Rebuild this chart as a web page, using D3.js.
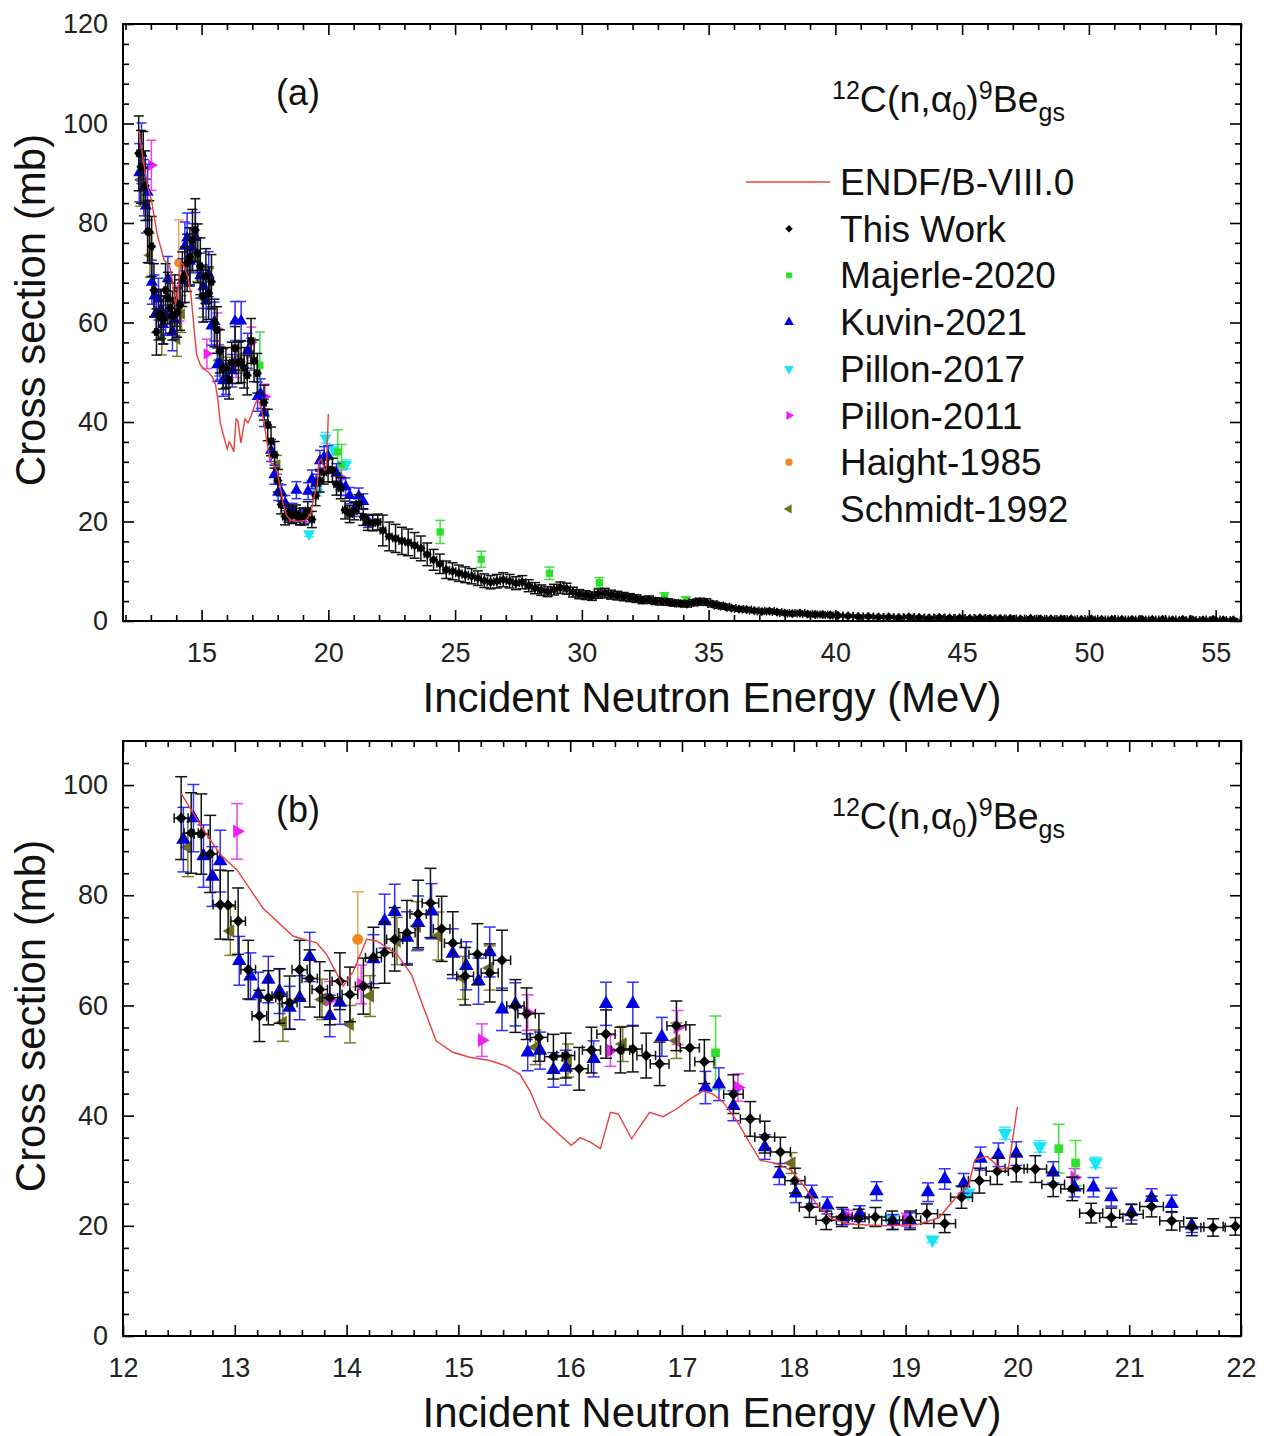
<!DOCTYPE html>
<html lang="en">
<head>
<meta charset="UTF-8">
<title>12C(n,a0)9Be cross section</title>
<script src="https://d3js.org/d3.v7.min.js"></script>
<style>
    body { margin: 0; background: #fff; }
    svg { font-family: "Liberation Sans", Arial, sans-serif; }
    .frame { fill: none; stroke: #000; stroke-width: 2; }
    .axis path { display: none; }
    .axis line { stroke: #000; stroke-width: 1.6; }
    .axis text { font-size: 27px; fill: #222; font-family: "Liberation Sans", Arial, sans-serif; }
    .title { font-size: 42px; fill: #111; }
    .legend text { font-size: 37px; fill: #111; }
</style>
</head>
<body>
<script>
// ---- data ----
const thisWorkE = [12.52, 12.61, 12.70, 12.78, 12.87, 12.94, 13.03, 13.12, 13.22, 13.30, 13.40, 13.49, 13.58, 13.67, 13.76, 13.85, 13.94, 14.03, 14.15, 14.24,
    14.34, 14.43, 14.54, 14.64, 14.75, 14.85, 14.95, 15.06, 15.17, 15.28, 15.39, 15.51, 15.61, 15.72, 15.85, 15.96, 16.08, 16.19, 16.32, 16.45,
    16.56, 16.68, 16.80, 16.95, 17.07, 17.20, 17.46, 17.61, 17.74, 17.88, 18.01, 18.14, 18.29, 18.43, 18.58, 18.73, 18.88, 19.04, 19.19, 19.35,
    19.50, 19.66, 19.82, 19.99, 20.16, 20.32, 20.49, 20.66, 20.84, 21.02, 21.20, 21.38, 21.56, 21.75, 21.95,
    22.15, 22.40, 22.65, 22.90, 23.15, 23.40, 23.65, 23.90, 24.15, 24.40, 24.65, 24.90, 25.15, 25.40, 25.65, 25.90, 26.15, 26.40, 26.65, 26.90,
    27.15, 27.40, 27.65, 27.90, 28.15, 28.40, 28.65, 28.90, 29.15, 29.40, 29.65, 29.90, 30.15, 30.40, 30.65, 30.90, 31.15, 31.40, 31.65, 31.90,
    32.15, 32.40, 32.65, 32.90, 33.15, 33.40, 33.65, 33.90, 34.15, 34.40, 34.65, 34.90, 35.15, 35.40, 35.65, 35.90, 36.20, 36.50, 36.80, 37.10,
    37.40, 37.70, 38.00, 38.30, 38.60, 38.90, 39.20, 39.50, 39.80, 40.10, 40.50, 40.90, 41.30, 41.70, 42.10, 42.50, 42.90, 43.30, 43.70, 44.10,
    44.50, 44.90, 45.30, 45.70, 46.10, 46.50, 46.90, 47.30, 47.70, 48.10, 48.50, 48.90, 49.30, 49.70, 50.10, 50.50, 50.90, 51.30, 51.70, 52.10,
    52.50, 52.90, 53.30, 53.70, 54.10, 54.50, 54.90, 55.30, 55.70];
const thisWorkXS = [94.0, 91.3, 91.1, 87.5, 78.3, 78.2, 75.3, 66.5, 58.1, 61.4, 61.7, 60.5, 66.5, 64.9, 62.9, 61.4, 64.4, 62.0, 63.5, 68.7,
    69.6, 72.0, 73.2, 76.6, 78.6, 73.9, 71.3, 65.3, 69.3, 65.9, 68.2, 59.9, 58.5, 54.2, 50.7, 50.9, 48.5, 51.9, 54.8, 51.9,
    52.1, 50.9, 49.4, 56.3, 52.3, 49.8, 43.9, 39.4, 36.1, 33.4, 28.2, 23.4, 21.0, 21.6, 21.3, 21.6, 21.0, 21.0, 22.2, 20.4,
    25.2, 28.2, 29.9, 30.4, 30.3, 27.5, 26.7, 22.3, 21.5, 22.1, 23.5, 20.9, 19.8, 19.7, 19.9,
    18.2, 17.0, 16.6, 16.1, 15.8, 15.2, 14.6, 13.4, 12.3, 11.5, 10.3, 10.0, 9.6, 9.3, 9.0, 8.6, 8.1, 7.8, 8.0, 8.3,
    8.0, 7.6, 7.8, 7.1, 6.6, 6.2, 5.9, 6.3, 6.7, 6.5, 5.8, 5.4, 5.2, 5.0, 5.5, 5.6, 5.3, 5.1, 4.9, 4.7,
    4.5, 4.2, 4.3, 4.0, 3.9, 3.8, 3.6, 3.5, 3.4, 3.7, 3.9, 3.8, 3.4, 3.1, 2.9, 2.6, 2.4, 2.3, 2.1, 1.9,
    2.0, 1.8, 1.6, 1.5, 1.6, 1.4, 1.3, 1.3, 1.2, 1.1, 1.0, 0.9, 0.9, 0.8, 0.8, 0.7, 0.8, 0.7, 0.6, 0.7,
    0.6, 0.6, 0.5, 0.6, 0.5, 0.5, 0.5, 0.4, 0.5, 0.4, 0.4, 0.4, 0.4, 0.3, 0.4, 0.3, 0.3, 0.3, 0.3, 0.3,
    0.3, 0.3, 0.2, 0.3, 0.2, 0.2, 0.3, 0.2, 0.2];

const majerleE = [17.30, 20.37, 20.52, 24.41, 26.03, 28.72, 30.69, 33.26, 34.11];
const majerleXS = [51.4, 34.0, 31.4, 17.9, 12.4, 9.6, 7.7, 5.0, 4.3];

const kuvinE = [12.54, 12.63, 12.72, 12.80, 12.87, 13.04, 13.14, 13.21, 13.30, 13.40, 13.49, 13.58, 13.67, 13.85, 13.94, 14.24, 14.34, 14.43, 14.54, 14.64,
    14.76, 14.95, 15.07, 15.18, 15.28, 15.39, 15.51, 15.62, 15.73, 15.85, 15.96, 16.21, 16.32, 16.56, 16.82, 17.21, 17.33, 17.46, 17.74, 17.87,
    18.02, 18.16, 18.30, 18.44, 18.59, 18.74, 18.89, 19.04, 19.20, 19.35, 19.52, 19.67, 19.83, 19.99, 20.32, 20.51, 20.68, 20.84, 21.02, 21.20,
    21.38, 21.56];
const kuvinXS = [90.1, 94.0, 87.1, 83.4, 86.2, 68.1, 65.3, 62.0, 64.7, 62.6, 59.6, 61.4, 68.8, 58.1, 60.5, 68.4, 75.3, 77.0, 72.3, 75.0,
    77.1, 69.4, 67.2, 64.4, 69.7, 59.3, 60.2, 51.5, 51.8, 48.3, 48.7, 50.3, 60.3, 60.3, 54.3, 45.1, 45.7, 41.8, 34.3, 29.4,
    25.9, 25.7, 23.7, 21.6, 22.2, 26.3, 20.7, 21.0, 26.1, 28.5, 27.7, 32.2, 32.9, 33.1, 29.7, 27.0, 27.0, 25.2, 22.5, 25.1,
    24.0, 20.1];

const pillon2017E = [18.87, 19.24, 19.56, 19.89, 20.20, 20.70];
const pillon2017XS = [21.2, 17.5, 25.9, 36.8, 34.4, 31.5];

const pillon2011E = [13.02, 13.85, 14.13, 15.21, 15.62, 16.36, 16.96, 17.50, 18.49, 19.01, 20.51];
const pillon2011XS = [91.6, 61.0, 63.8, 53.7, 58.7, 51.8, 56.0, 45.1, 21.6, 21.1, 28.8];

const haightE = [14.10];
const haightXS = [72.0];

const schmidtE = [12.58, 12.96, 13.43, 13.78, 14.03, 14.21, 14.45, 14.63, 14.82, 15.04, 15.28, 15.69, 15.98, 16.47, 16.95, 17.98];
const schmidtXS = [88.7, 73.5, 56.9, 61.1, 56.6, 61.7, 71.7, 74.4, 72.6, 65.0, 66.8, 52.4, 50.0, 53.0, 53.6, 31.4];

const endfE = [12.52, 12.70, 12.87, 13.02, 13.25, 13.52, 13.65, 13.73, 13.82, 13.97, 14.06, 14.18, 14.27, 14.45, 14.58, 14.70, 14.80, 14.95, 15.10, 15.28,
    15.43, 15.55, 15.64, 15.74, 15.88, 16.01, 16.09, 16.18, 16.27, 16.36, 16.43, 16.55, 16.62, 16.71, 16.83, 16.95, 17.07, 17.19, 17.28, 17.37,
    17.49, 17.61, 17.70, 17.85, 17.98, 18.10, 18.22, 18.35, 18.50, 18.80, 19.10, 19.30, 19.49, 19.56, 19.62, 19.73, 19.85, 19.92, 20.00];
const endfXS = [98.5, 92.5, 87.4, 84.6, 77.7, 72.6, 71.8, 71.4, 69.3, 63.5, 66.2, 72.0, 71.7, 69.3, 65.6, 59.0, 53.6, 51.5, 50.6, 50.0,
    49.0, 47.5, 44.5, 39.7, 37.0, 34.6, 36.0, 35.2, 34.0, 40.6, 40.3, 35.8, 37.9, 40.6, 39.8, 41.2, 43.0, 44.5, 43.9, 42.4,
    39.1, 34.9, 31.9, 31.3, 30.0, 27.0, 23.5, 21.2, 20.3, 20.0, 20.2, 21.5, 26.1, 27.0, 32.0, 32.6, 30.3, 30.5, 41.6];

// relative uncertainties
const thisWorkRelErr = 0.08, thisWorkRelErrHigh = 0.17, thisWorkHighFrom = 22, thisWorkMinErr = 0.3, thisWorkDxFrac = 0.005;
const majerleRelErr = 0.13, kuvinRelErr = 0.065, pillon2017RelErr = 0.03,
      pillon2011RelErr = 0.055, haightRelErr = 0.12, schmidtRelErr = 0.06;

const legendLabels = ["ENDF/B-VIII.0", "This Work", "Majerle-2020", "Kuvin-2021", "Pillon-2017", "Pillon-2011", "Haight-1985", "Schmidt-1992"];

// ---- series styling ----
const series = [
    {name: "Schmidt-1992", E: schmidtE, V: schmidtXS, rel: () => schmidtRelErr, shape: "tri", rot: -90, fill: "#6e6e1e", bar: "#7c7c2a", size: 80},
    {name: "Haight-1985", E: haightE, V: haightXS, rel: () => haightRelErr, shape: "circle", rot: 0, fill: "#f08a20", bar: "#f0a454", size: 95},
    {name: "Pillon-2011", E: pillon2011E, V: pillon2011XS, rel: () => pillon2011RelErr, shape: "tri", rot: 90, fill: "#f020f0", bar: "#f040f0", size: 80},
    {name: "Pillon-2017", E: pillon2017E, V: pillon2017XS, rel: () => pillon2017RelErr, shape: "tri", rot: 180, fill: "#18e4f4", bar: "#40e8f4", size: 90},
    {name: "Majerle-2020", E: majerleE, V: majerleXS, rel: () => majerleRelErr, shape: "square", rot: 0, fill: "#2ee02e", bar: "#40e040", size: 75},
    {name: "Kuvin-2021", E: kuvinE, V: kuvinXS, rel: () => kuvinRelErr, shape: "tri", rot: 0, fill: "#0000e6", bar: "#3030ff", size: 90},
    {name: "This Work", E: thisWorkE, V: thisWorkXS, rel: e => e > thisWorkHighFrom ? thisWorkRelErrHigh : thisWorkRelErr,
     minErr: thisWorkMinErr, dx: thisWorkDxFrac, shape: "square", rot: 45, fill: "#000", bar: "#111", size: 62}
];
const byName = Object.fromEntries(series.map(s => [s.name, s]));

const shapeType = {tri: d3.symbolTriangle, square: d3.symbolSquare, circle: d3.symbolCircle};

const svg = d3.select("body").append("svg")
    .attr("width", 1270)
    .attr("height", 1436);

const panels = [
    {key: "a", left: 123, right: 1241, top: 24, bottom: 621, xDom: [11.9, 56], yDom: [0, 120],
     xMajor: d3.range(15, 56, 5), xMinor: d3.range(12, 57, 1), yMajor: d3.range(0, 121, 20), yMinor: d3.range(0, 121, 4),
     mscale: 0.7, cap: 5, yTitleY: 310},
    {key: "b", left: 123, right: 1241, top: 741, bottom: 1336, xDom: [12, 22], yDom: [0, 108],
     xMajor: d3.range(12, 23, 1), xMinor: d3.range(12, 22.01, 0.2), yMajor: d3.range(0, 101, 20), yMinor: d3.range(0, 108, 4),
     mscale: 1, cap: 6, yTitleY: 1016}
];

panels.forEach(p => {
    const x = d3.scaleLinear().domain(p.xDom).range([p.left, p.right]);
    const y = d3.scaleLinear().domain(p.yDom).range([p.bottom, p.top]);
    const g = svg.append("g");

    g.append("clipPath").attr("id", "clip-" + p.key)
        .append("rect")
        .attr("x", p.left).attr("y", p.top)
        .attr("width", p.right - p.left).attr("height", p.bottom - p.top);

    const plot = g.append("g").attr("clip-path", "url(#clip-" + p.key + ")");

    // data series with error bars
    series.forEach(s => {
        const pts = s.E.map((e, i) => ({e: e, v: s.V[i]}));
        const sg = plot.append("g");
        const errOf = d => Math.max(d.v * s.rel(d.e), s.minErr || 0);

        sg.selectAll("line.ey").data(pts).join("line")
            .attr("x1", d => x(d.e)).attr("x2", d => x(d.e))
            .attr("y1", d => y(d.v - errOf(d))).attr("y2", d => y(d.v + errOf(d)))
            .attr("stroke", s.bar).attr("stroke-width", 1.5);
        [-1, 1].forEach(sign => {
            sg.selectAll(null).data(pts).join("line")
                .attr("x1", d => x(d.e) - p.cap).attr("x2", d => x(d.e) + p.cap)
                .attr("y1", d => y(d.v + sign * errOf(d))).attr("y2", d => y(d.v + sign * errOf(d)))
                .attr("stroke", s.bar).attr("stroke-width", 1.5);
        });
        if (s.dx) {
            sg.selectAll(null).data(pts).join("line")
                .attr("x1", d => x(d.e * (1 - s.dx))).attr("x2", d => x(d.e * (1 + s.dx)))
                .attr("y1", d => y(d.v)).attr("y2", d => y(d.v))
                .attr("stroke", s.bar).attr("stroke-width", 1.5);
            [-1, 1].forEach(sign => {
                sg.selectAll(null).data(pts).join("line")
                    .attr("x1", d => x(d.e * (1 + sign * s.dx))).attr("x2", d => x(d.e * (1 + sign * s.dx)))
                    .attr("y1", d => y(d.v) - p.cap * 0.8).attr("y2", d => y(d.v) + p.cap * 0.8)
                    .attr("stroke", s.bar).attr("stroke-width", 1.5);
            });
        }
        sg.selectAll("path").data(pts).join("path")
            .attr("d", d3.symbol().type(shapeType[s.shape]).size(s.size * p.mscale))
            .attr("transform", d => `translate(${x(d.e)},${y(d.v)}) rotate(${s.rot})`)
            .attr("fill", s.fill);
    });

    // ENDF evaluation
    const endfPts = endfE.map((e, i) => [e, endfXS[i]]);
    plot.append("path")
        .datum(endfPts)
        .attr("d", d3.line().x(d => x(d[0])).y(d => y(d[1])))
        .attr("fill", "none")
        .attr("stroke", "#e8403f")
        .attr("stroke-width", 1.4);

    // axes (inward ticks on all four sides)
    const xMinorOnly = p.xMinor.filter(v => !p.xMajor.some(m => Math.abs(m - v) < 1e-6));
    const yMinorOnly = p.yMinor.filter(v => !p.yMajor.some(m => Math.abs(m - v) < 1e-6));

    g.append("g").attr("class", "axis").attr("transform", `translate(0,${p.bottom})`)
        .call(d3.axisBottom(x).tickValues(p.xMajor).tickSize(-11).tickPadding(22).tickFormat(d3.format("d")));
    g.append("g").attr("class", "axis").attr("transform", `translate(0,${p.bottom})`)
        .call(d3.axisBottom(x).tickValues(xMinorOnly).tickSize(-6).tickFormat(""));
    g.append("g").attr("class", "axis").attr("transform", `translate(0,${p.top})`)
        .call(d3.axisTop(x).tickValues(p.xMajor).tickSize(-11).tickFormat(""));
    g.append("g").attr("class", "axis").attr("transform", `translate(0,${p.top})`)
        .call(d3.axisTop(x).tickValues(xMinorOnly).tickSize(-6).tickFormat(""));

    g.append("g").attr("class", "axis").attr("transform", `translate(${p.left},0)`)
        .call(d3.axisLeft(y).tickValues(p.yMajor).tickSize(-11).tickPadding(15).tickFormat(d3.format("d")));
    g.append("g").attr("class", "axis").attr("transform", `translate(${p.left},0)`)
        .call(d3.axisLeft(y).tickValues(yMinorOnly).tickSize(-6).tickFormat(""));
    g.append("g").attr("class", "axis").attr("transform", `translate(${p.right},0)`)
        .call(d3.axisRight(y).tickValues(p.yMajor).tickSize(-11).tickFormat(""));
    g.append("g").attr("class", "axis").attr("transform", `translate(${p.right},0)`)
        .call(d3.axisRight(y).tickValues(yMinorOnly).tickSize(-6).tickFormat(""));

    g.append("rect").attr("class", "frame")
        .attr("x", p.left).attr("y", p.top)
        .attr("width", p.right - p.left).attr("height", p.bottom - p.top);

    // titles
    g.append("text").attr("class", "title")
        .attr("x", 712).attr("y", p.bottom + 91)
        .attr("text-anchor", "middle")
        .text("Incident Neutron Energy (MeV)");
    g.append("text").attr("class", "title")
        .attr("transform", `translate(45,${p.yTitleY}) rotate(-90)`)
        .attr("text-anchor", "middle")
        .text("Cross section (mb)");

    // panel tag and reaction
    g.append("text")
        .attr("x", 298).attr("y", p.top + 81)
        .attr("text-anchor", "middle")
        .attr("font-size", 36).attr("fill", "#111")
        .text("(" + p.key + ")");

    const r = g.append("text")
        .attr("x", 832).attr("y", p.top + 88)
        .attr("font-size", 37.5).attr("fill", "#111");
    r.append("tspan").attr("font-size", 25).attr("dy", -13).text("12");
    r.append("tspan").attr("dy", 13).text("C(n,");
    r.append("tspan").text("\u03b1");
    r.append("tspan").attr("font-size", 25).attr("dy", 8).text("0");
    r.append("tspan").attr("dy", -8).text(")");
    r.append("tspan").attr("font-size", 25).attr("dy", -13).text("9");
    r.append("tspan").attr("dy", 13).text("Be");
    r.append("tspan").attr("font-size", 25).attr("dy", 9).text("gs");

    // legend only in panel (a)
    if (p.key === "a") {
        const lg = g.append("g").attr("class", "legend");
        legendLabels.forEach((lab, i) => {
            const cy = 182 + i * 46.7;
            if (i === 0) {
                lg.append("line")
                    .attr("x1", 746).attr("x2", 830).attr("y1", cy).attr("y2", cy)
                    .attr("stroke", "#e8403f").attr("stroke-width", 1.6);
            } else {
                const s = byName[lab];
                lg.append("path")
                    .attr("d", d3.symbol().type(shapeType[s.shape]).size(s.size * 0.45))
                    .attr("transform", `translate(789,${cy}) rotate(${s.rot})`)
                    .attr("fill", s.fill);
            }
            lg.append("text").attr("x", 840).attr("y", cy + 13).text(lab);
        });
    }
});
</script>
</body>
</html>
